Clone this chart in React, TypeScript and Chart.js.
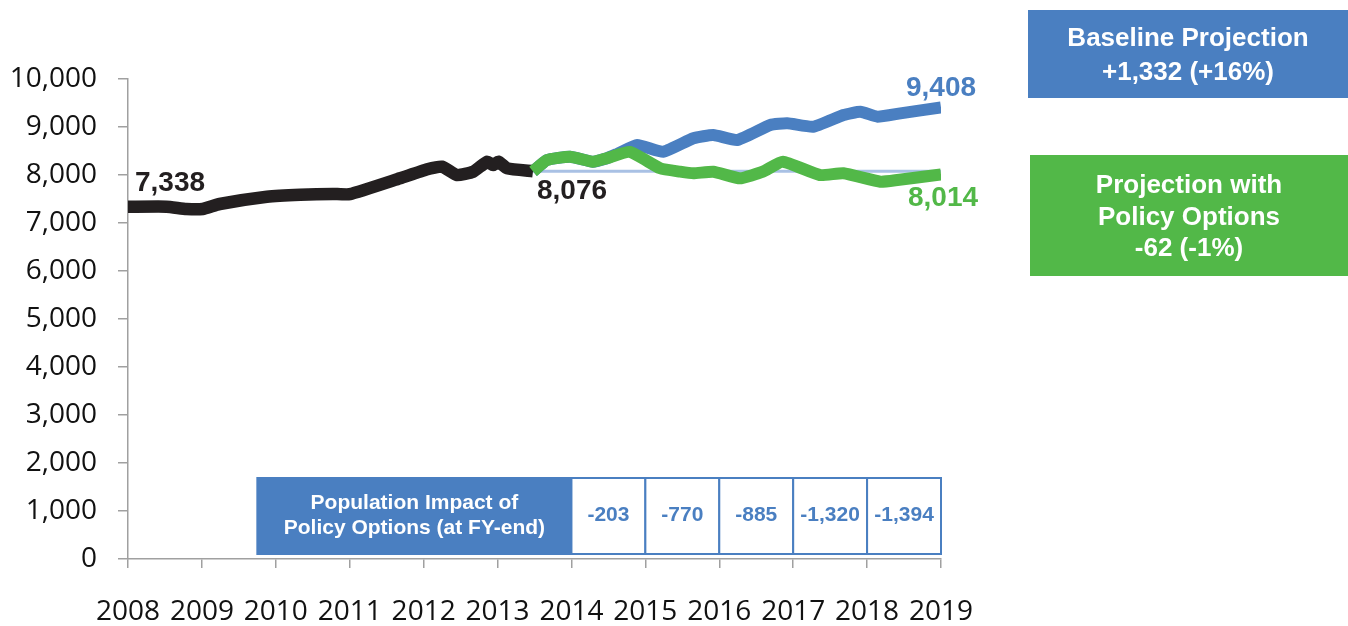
import React, { useEffect, useRef } from 'react';
import { Chart, registerables } from 'chart.js';

Chart.register(...registerables);

// ---------- data ----------
const yearTicks = [2008, 2009, 2010, 2011, 2012, 2013, 2014, 2015, 2016, 2017, 2018, 2019];
const yTicks = [0, 1000, 2000, 3000, 4000, 5000, 6000, 7000, 8000, 9000, 10000];

const historyYears = [2008.0, 2008.52, 2008.79, 2009.01, 2009.24, 2009.88, 2010.33, 2010.77, 2011.0, 2011.68, 2012.05, 2012.25, 2012.45, 2012.67, 2012.86, 2012.94, 2013.01, 2013.13, 2013.48];
const historyValues = [7338, 7340, 7292, 7292, 7396, 7548, 7590, 7605, 7600, 7931, 8119, 8173, 8000, 8069, 8277, 8208, 8277, 8140, 8076];

const baselineYears = [2013.48, 2013.67, 2013.98, 2014.29, 2014.48, 2014.62, 2014.89, 2015.24, 2015.65, 2015.92, 2016.24, 2016.69, 2016.92, 2017.27, 2017.68, 2017.91, 2018.14, 2018.45, 2019.0];
const baselineValues = [8076, 8313, 8381, 8277, 8348, 8440, 8625, 8485, 8765, 8833, 8729, 9042, 9077, 9006, 9250, 9319, 9215, 9285, 9408];

const policyYears = [2013.48, 2013.67, 2013.98, 2014.29, 2014.48, 2014.79, 2015.2, 2015.47, 2015.65, 2015.92, 2016.28, 2016.59, 2016.86, 2017.36, 2017.68, 2018.18, 2018.41, 2019.0];
const policyValues = [8076, 8313, 8381, 8277, 8348, 8480, 8140, 8069, 8035, 8069, 7931, 8069, 8277, 8000, 8035, 7860, 7896, 8014];

const referenceYears = [2013.48, 2019.0];
const referenceValues = [8076, 8076];

const tableHeaderStartYear = 2009.75;
const tableYearBounds = [2014, 2015, 2016, 2017, 2018, 2019];
const impactValues = [-203, -770, -885, -1320, -1394];
const tableHeaderLines = ['Population Impact of', 'Policy Options (at FY-end)'];

const baselineBoxLines = ['Baseline Projection', '+1,332 (+16%)'];
const policyBoxLines = ['Projection with', 'Policy Options', '-62 (-1%)'];

// ---------- styles ----------
const BLACK = '#231f20';
const BLUE = '#4a7fc1';
const GREEN = '#52b848';
const REF = '#a9c1e4';
const AXIS = '#a0a0a0';
const BOLD = '"Liberation Sans", Arial, Helvetica, sans-serif';
const TICKFONT = '"Open Sans", "Noto Sans", sans-serif';

const fmt = (v: number) => v.toLocaleString('en-US');
const pts = (xs: number[], ys: number[]) => xs.map((x, i) => ({ x, y: ys[i] }));

const overlayPlugin = {
  id: 'overlay',
  afterDatasetsDraw(chart: any) {
    const { ctx } = chart;
    const x = chart.scales.x;
    const y = chart.scales.y;
    ctx.save();

    // end-point labels
    const drawLabel = (text: string, px: number, py: number, color: string, align: CanvasTextAlign) => {
      ctx.font = `bold 28px ${BOLD}`;
      ctx.fillStyle = color;
      ctx.textAlign = align;
      ctx.textBaseline = 'middle';
      ctx.fillText(text, px, py);
    };
    const h0 = historyValues[0];
    drawLabel(fmt(h0), x.getPixelForValue(historyYears[0]) + 7, y.getPixelForValue(h0) - 23, BLACK, 'left');
    const hl = historyValues[historyValues.length - 1];
    drawLabel(fmt(hl), x.getPixelForValue(historyYears[historyYears.length - 1]) + 4, y.getPixelForValue(hl) + 20, BLACK, 'left');
    const bl = baselineValues[baselineValues.length - 1];
    drawLabel(fmt(bl), x.getPixelForValue(baselineYears[baselineYears.length - 1]), y.getPixelForValue(bl) - 19, BLUE, 'center');
    const pl = policyValues[policyValues.length - 1];
    drawLabel(fmt(pl), x.getPixelForValue(policyYears[policyYears.length - 1]) + 2, y.getPixelForValue(pl) + 24, GREEN, 'center');

    // table
    const base = y.getPixelForValue(0);
    const top = base - 81;
    const bottom = base - 5;
    const midY = (top + bottom) / 2;
    const hx0 = x.getPixelForValue(tableHeaderStartYear);
    const hx1 = x.getPixelForValue(tableYearBounds[0]);
    ctx.fillStyle = BLUE;
    ctx.fillRect(hx0, top, hx1 - hx0, bottom - top);
    ctx.fillStyle = '#ffffff';
    ctx.font = `bold 21px ${BOLD}`;
    ctx.textAlign = 'center';
    ctx.textBaseline = 'middle';
    ctx.fillText(tableHeaderLines[0], (hx0 + hx1) / 2, midY - 13);
    ctx.fillText(tableHeaderLines[1], (hx0 + hx1) / 2, midY + 12);

    ctx.strokeStyle = BLUE;
    ctx.lineWidth = 2;
    for (let i = 0; i < impactValues.length; i++) {
      const cx0 = x.getPixelForValue(tableYearBounds[i]);
      const cx1 = x.getPixelForValue(tableYearBounds[i + 1]);
      ctx.fillStyle = '#ffffff';
      ctx.fillRect(cx0, top, cx1 - cx0, bottom - top);
      ctx.strokeRect(cx0, top, cx1 - cx0, bottom - top);
      ctx.fillStyle = BLUE;
      ctx.font = `bold 21px ${BOLD}`;
      ctx.fillText(fmt(impactValues[i]), (cx0 + cx1) / 2, midY - 1);
    }
    ctx.strokeRect(hx0, top, x.getPixelForValue(tableYearBounds[tableYearBounds.length - 1]) - hx0, bottom - top);

    // right-hand boxes
    const drawBox = (lines: string[], bx: number, by: number, bw: number, bh: number, fill: string, gap: number) => {
      ctx.fillStyle = fill;
      ctx.fillRect(bx, by, bw, bh);
      ctx.fillStyle = '#ffffff';
      ctx.font = `bold 26px ${BOLD}`;
      ctx.textAlign = 'center';
      ctx.textBaseline = 'middle';
      const cy = by + bh / 2 + 2;
      lines.forEach((t, i) => {
        ctx.fillText(t, bx + bw / 2, cy + (i - (lines.length - 1) / 2) * gap);
      });
    };
    drawBox(baselineBoxLines, 1028, 10, 320, 88, BLUE, 34);
    drawBox(policyBoxLines, 1030, 155, 318, 121, GREEN, 31.5);

    ctx.restore();
  },
};

export default function App() {
  const ref = useRef<HTMLCanvasElement | null>(null);

  useEffect(() => {
    if (!ref.current) return;
    const chart = new Chart(ref.current, {
      type: 'line',
      data: {
        datasets: [
          {
            label: 'Projection with Policy Options',
            data: pts(policyYears, policyValues),
            borderColor: GREEN,
            borderWidth: 12,
            tension: 0.15,
            pointRadius: 0,
            borderJoinStyle: 'round',
            order: 0,
          },
          {
            label: 'Actual',
            data: pts(historyYears, historyValues),
            borderColor: BLACK,
            borderWidth: 12.5,
            tension: 0.15,
            pointRadius: 0,
            borderJoinStyle: 'round',
            order: 1,
          },
          {
            label: 'Baseline Projection',
            data: pts(baselineYears, baselineValues),
            borderColor: BLUE,
            borderWidth: 12,
            tension: 0.15,
            pointRadius: 0,
            borderJoinStyle: 'round',
            order: 2,
          },
          {
            label: 'Reference',
            data: pts(referenceYears, referenceValues),
            borderColor: REF,
            borderWidth: 3,
            pointRadius: 0,
            order: 3,
          },
        ],
      },
      options: {
        responsive: false,
        animation: false,
        devicePixelRatio: 1,
        layout: { padding: { left: 0, top: 79, right: 407, bottom: 0 } },
        plugins: { legend: { display: false }, tooltip: { enabled: false } },
        scales: {
          x: {
            type: 'linear',
            min: 2008,
            max: 2019,
            afterBuildTicks: (s: any) => {
              s.ticks = yearTicks.map((v) => ({ value: v }));
            },
            afterFit: (s: any) => {
              s.height = 67;
            },
            ticks: {
              callback: (v: any) => String(v),
              font: { family: TICKFONT, size: 28 },
              color: '#111',
              padding: 27,
              maxRotation: 0,
              autoSkip: false,
            },
            grid: { drawOnChartArea: false, drawTicks: true, tickLength: 9, color: AXIS, lineWidth: 1.5 },
            border: { display: true, color: AXIS, width: 1.5 },
          },
          y: {
            type: 'linear',
            min: 0,
            max: 10000,
            afterBuildTicks: (s: any) => {
              s.ticks = yTicks.map((v) => ({ value: v }));
            },
            afterFit: (s: any) => {
              s.width = 128;
            },
            ticks: {
              callback: (v: any) => fmt(Number(v)),
              font: { family: TICKFONT, size: 28 },
              color: '#111',
              padding: 21,
            },
            grid: { drawOnChartArea: false, drawTicks: true, tickLength: 10, color: AXIS, lineWidth: 1.5 },
            border: { display: true, color: AXIS, width: 1.5 },
          },
        },
      },
      plugins: [overlayPlugin],
    } as any);
    return () => chart.destroy();
  }, []);

  return (
    <div style={{ position: 'absolute', left: 0, top: 0, width: 1348, height: 626, background: '#fff' }}>
      <canvas ref={ref} width={1348} height={626} style={{ display: 'block' }} />
    </div>
  );
}
